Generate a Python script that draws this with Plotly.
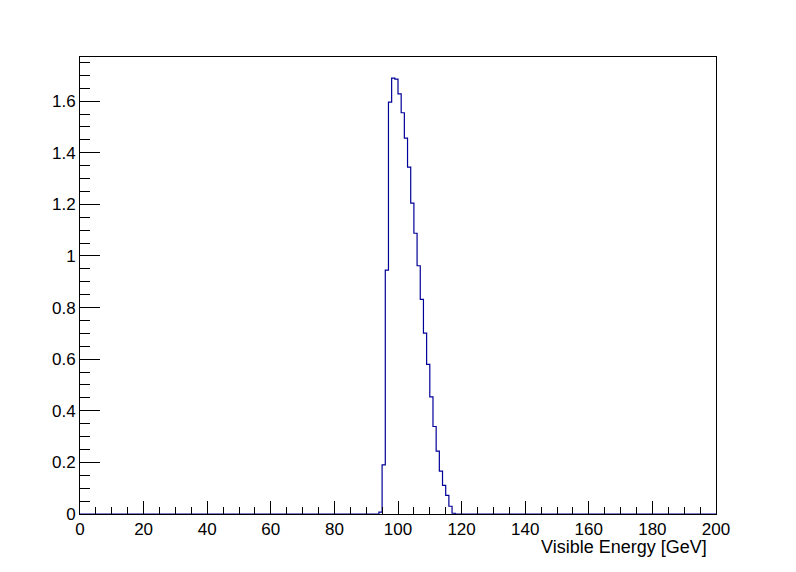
import plotly.graph_objects as go

# Histogram: 200 bins of 1 GeV from 0 to 200; non-empty bins listed by lower edge
bin_width = 1.0
n_bins = 200
first_bin = 94
bin_values = [0.007, 0.19, 0.945, 1.596, 1.689, 1.685, 1.628, 1.555, 1.457, 1.344,
              1.205, 1.088, 0.962, 0.832, 0.701, 0.580, 0.454, 0.339, 0.244, 0.166,
              0.111, 0.072, 0.030, 0.003]
x_title = "Visible Energy [GeV]"

values = [0.0] * n_bins
for i, v in enumerate(bin_values):
    values[first_bin + i] = v
edges = [i * bin_width for i in range(n_bins + 1)]
xs = edges
ys = values + [values[-1]]

fig = go.Figure()
fig.add_trace(go.Scatter(x=xs, y=ys, mode="lines", line=dict(color="#000099", width=1.2, shape="hv"),
                         showlegend=False, hoverinfo="skip"))

fam = "Liberation Sans, Arial, Helvetica, sans-serif"
tick_font = dict(family=fam, size=17, color="black")
title_font = dict(family=fam, size=18, color="black")
fig.update_layout(
    width=796, height=572,
    margin=dict(l=72, r=88, t=49, b=66),
    paper_bgcolor="white", plot_bgcolor="white",
    font=tick_font,
    xaxis=dict(range=[0, 200], showgrid=False, zeroline=False, showline=True, mirror=True,
               linecolor="black", linewidth=1, ticks="inside", ticklen=13, tickcolor="black",
               dtick=20, tick0=0, tickfont=tick_font, automargin=False,
               minor=dict(ticks="inside", ticklen=7, dtick=5, tickcolor="black", showgrid=False)),
    yaxis=dict(range=[0, 1.771], showgrid=False, zeroline=False, showline=True, mirror=True,
               linecolor="black", linewidth=1, ticks="inside", ticklen=20, tickcolor="black",
               dtick=0.2, tick0=0, tickformat="~g", tickfont=tick_font, automargin=False,
               minor=dict(ticks="inside", ticklen=10, dtick=0.05, tickcolor="black", showgrid=False)),
    annotations=[dict(text=x_title, xref="paper", yref="paper", x=0.9885, y=0, xanchor="right",
                      yanchor="middle", yshift=-33, showarrow=False, font=title_font)],
)
fig.write_html("out.html")
